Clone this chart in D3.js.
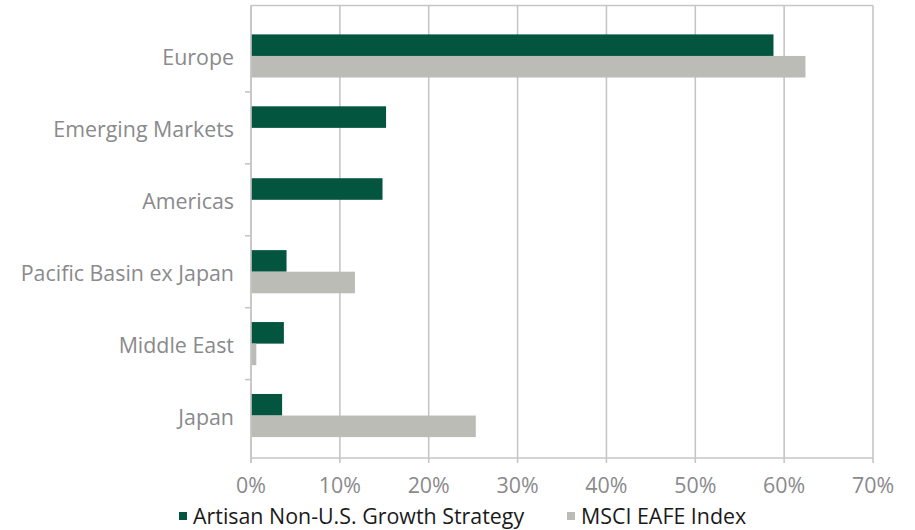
<!DOCTYPE html>
<html>
<head>
<meta charset="utf-8">
<script src="https://cdn.jsdelivr.net/npm/d3@7"></script>
<style>
  body { margin: 0; background: #fff; }
  svg { display: block; font-family: "Open Sans", Lato, sans-serif; }
</style>
</head>
<body>
<svg id="chart" width="915" height="530"></svg>
<script>
// Regions, top to bottom
const regions = ["Europe", "Emerging Markets", "Americas", "Pacific Basin ex Japan", "Middle East", "Japan"];
const seriesNames = ["Artisan Non-U.S. Growth Strategy", "MSCI EAFE Index"];
// Percent of portfolio
const artisanValues = [58.8, 15.2, 14.8, 4.0, 3.7, 3.5];
const eafeValues = [62.4, 0, 0, 11.7, 0.6, 25.3];
const xTicks = [0, 10, 20, 30, 40, 50, 60, 70];

const colors = ["#045540", "#bcbcb7"];

const svg = d3.select("#chart");
const frame = { left: 251, right: 873, top: 5.5, bottom: 458 };

const x = d3.scaleLinear().domain([0, 70]).range([frame.left, frame.right]);

// category bands sit a little inside the frame
const y = d3.scaleBand().domain(regions).range([20, 451.5]).padding(0);
const ySub = d3.scaleBand().domain(seriesNames).range([0, y.bandwidth()])
  .paddingInner(0).paddingOuter(0.667);

// grid lines (extend below the frame as tick marks)
svg.append("g").selectAll("line")
  .data(xTicks)
  .join("line")
  .attr("x1", d => x(d)).attr("x2", d => x(d))
  .attr("y1", frame.top).attr("y2", frame.bottom + 5)
  .attr("stroke", "#c6c6c6").attr("stroke-width", 1.6);

// top border
svg.append("line")
  .attr("x1", frame.left).attr("x2", frame.right)
  .attr("y1", frame.top).attr("y2", frame.top)
  .attr("stroke", "#c6c6c6").attr("stroke-width", 1.6);

// bottom axis line
svg.append("line")
  .attr("x1", frame.left).attr("x2", frame.right)
  .attr("y1", frame.bottom).attr("y2", frame.bottom)
  .attr("stroke", "#c6c6c6").attr("stroke-width", 1.6);

// bars
const rows = regions.map((r, i) => ({ region: r, values: [artisanValues[i], eafeValues[i]] }));
const groups = svg.append("g").selectAll("g")
  .data(rows)
  .join("g")
  .attr("transform", d => `translate(0,${y(d.region)})`);

groups.selectAll("rect")
  .data(d => d.values.map((v, j) => ({ series: seriesNames[j], value: v, idx: j })))
  .join("rect")
  .attr("x", x(0))
  .attr("y", d => ySub(d.series))
  .attr("width", d => x(d.value) - x(0))
  .attr("height", ySub.bandwidth())
  .attr("fill", d => colors[d.idx]);

// left axis line
svg.append("line")
  .attr("x1", frame.left).attr("x2", frame.left)
  .attr("y1", frame.top).attr("y2", frame.bottom + 5)
  .attr("stroke", "#c6c6c6").attr("stroke-width", 1.6);

// category separators on left axis
svg.append("g").selectAll("line")
  .data(regions.slice(1))
  .join("line")
  .attr("x1", frame.left - 6).attr("x2", frame.left)
  .attr("y1", d => y(d)).attr("y2", d => y(d))
  .attr("stroke", "#c6c6c6").attr("stroke-width", 1.6);

// category labels
svg.append("g").selectAll("text")
  .data(regions)
  .join("text")
  .attr("x", 234)
  .attr("y", d => y(d) + y.bandwidth() / 2 + 2)
  .attr("dy", "0.35em")
  .attr("text-anchor", "end")
  .attr("fill", "#8a8a8c")
  .style("font-size", "21.4px")
  .text(d => d);

// x tick labels
svg.append("g").selectAll("text")
  .data(xTicks)
  .join("text")
  .attr("x", d => x(d))
  .attr("y", 486)
  .attr("dy", "0.35em")
  .attr("text-anchor", "middle")
  .attr("fill", "#8a8a8c")
  .style("font-size", "21.4px")
  .text(d => d + "%");

// legend
const legendX = [179, 567];
const legend = svg.append("g").selectAll("g")
  .data(seriesNames)
  .join("g")
  .attr("transform", (d, i) => `translate(${legendX[i]},512)`);

legend.append("rect")
  .attr("width", 8).attr("height", 8)
  .attr("fill", (d, i) => colors[i]);

legend.append("text")
  .attr("x", 14)
  .attr("y", 4)
  .attr("dy", "0.35em")
  .attr("fill", "#1a1a1a")
  .style("font-size", "21.4px")
  .text(d => d);
</script>
</body>
</html>
